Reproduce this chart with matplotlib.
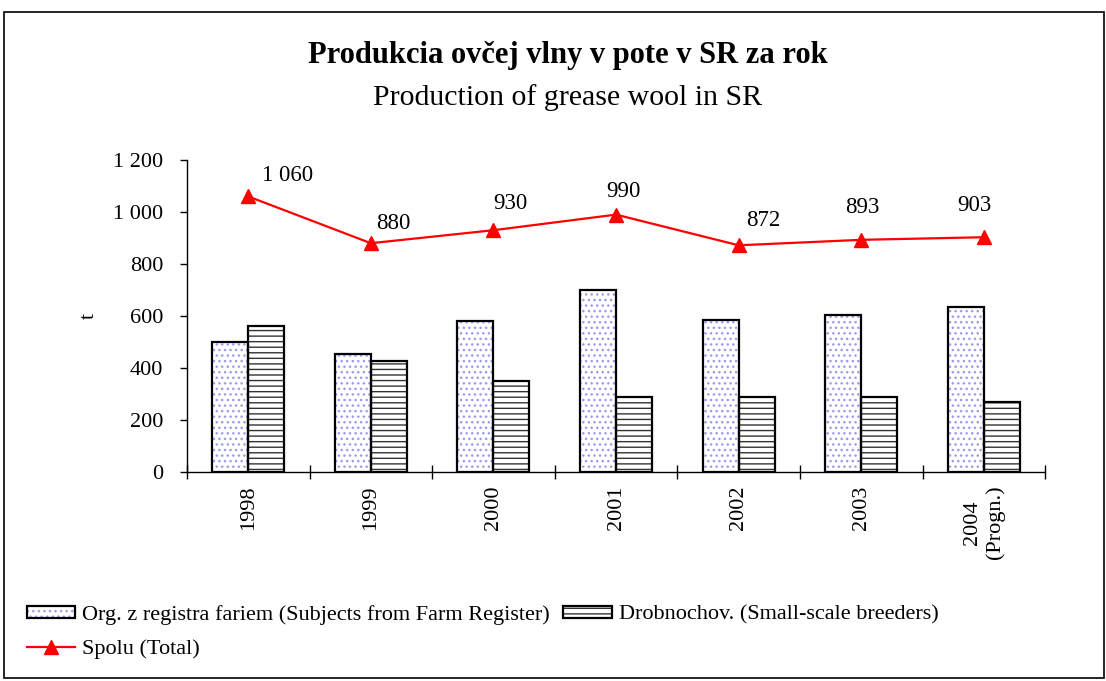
import numpy as np
import matplotlib
matplotlib.use("Agg")
import matplotlib.pyplot as plt
from matplotlib.patches import Rectangle, Patch
from matplotlib.lines import Line2D

plt.rcParams['font.family'] = ['Liberation Serif', 'DejaVu Serif']
plt.rcParams['hatch.linewidth'] = 1.0

years = ["1998", "1999", "2000", "2001", "2002", "2003", "2004\n(Progn.)"]
org_farm = [500, 453, 580, 700, 585, 603, 633]
small_breeders = [560, 427, 350, 290, 287, 290, 270]
total = [1060, 880, 930, 990, 872, 893, 903]
total_labels = ["1 060", "880", "930", "990", "872", "893", "903"]

# label offsets (points) as Excel placed them
label_off = [(28, 15), (16, 14), (12, 19), (5, 17), (18, 18), (1, 23), (-7, 23)]

fig = plt.figure(figsize=(11.06, 6.81), dpi=100)
ax = fig.add_axes([0.169, 0.307, 0.776, 0.458])

x = np.arange(len(years))
w = 0.294
blue = "#9a9af0"

# hatch fills first, then black outlines on top
ax.bar(x - w/2, org_farm, w, color="white", hatch="...", edgecolor=blue, linewidth=0)
ax.bar(x + w/2, small_breeders, w, color="white", hatch="---", edgecolor="#333333", linewidth=0)
ax.bar(x - w/2, org_farm, w, fill=False, edgecolor="black", linewidth=1.6)
ax.bar(x + w/2, small_breeders, w, fill=False, edgecolor="black", linewidth=1.6)

ax.plot(x, total, color="red", lw=1.6, marker="^", markersize=10, zorder=5)
for xi, v, lab, off in zip(x, total, total_labels, label_off):
    ax.annotate(lab, (xi, v), xytext=off, textcoords="offset points",
                ha="center", va="center", fontsize=16.5)

ax.set_xlim(-0.5, len(years) - 0.5)
ax.set_ylim(0, 1200)
ax.set_yticks(np.arange(0, 1201, 200))
ax.set_yticklabels(["0", "200", "400", "600", "800", "1 000", "1 200"], fontsize=16)
ax.tick_params(axis="y", direction="out", length=5, pad=12, width=1)

ax.set_xticks(x)
ax.set_xticklabels(years, rotation=90, fontsize=16, va="top", ha="center", multialignment="center")
ax.tick_params(axis="x", which="major", length=0, pad=10)
ax.set_xticks(np.arange(-0.5, len(years), 1), minor=True)
ax.tick_params(axis="x", which="minor", direction="inout", length=10, width=1)

ax.spines["top"].set_visible(False)
ax.spines["right"].set_visible(False)
ax.spines["left"].set_linewidth(1)
ax.spines["bottom"].set_linewidth(1)
ax.set_ylabel("t", fontsize=16, labelpad=10)

fig.text(0.513, 0.918, "Produkcia ovčej vlny v pote v SR za rok", ha="center", va="center",
         fontsize=22, fontweight="bold")
fig.text(0.513, 0.857, "Production of grease wool in SR", ha="center", va="center", fontsize=21.5)

# legend
h_org = (Patch(facecolor="white", hatch="...", edgecolor=blue, linewidth=0),
         Patch(fill=False, edgecolor="black", linewidth=1.6))
h_small = (Patch(facecolor="white", hatch="---", edgecolor="#333333", linewidth=0),
           Patch(fill=False, edgecolor="black", linewidth=1.6))
h_tot = Line2D([], [], color="red", lw=1.6, marker="^", markersize=10)
fig.legend([h_org, h_tot, h_small],
           ["Org. z registra fariem (Subjects from Farm Register)", "Spolu (Total)",
            "Drobnochov. (Small-scale breeders)"],
           ncol=2, loc="upper left", bbox_to_anchor=(0.014, 0.128), frameon=False,
           fontsize=16, handlelength=2.2, handleheight=0.45, handletextpad=0.3,
           columnspacing=0.6, labelspacing=0.65, borderpad=0)

fig.patches.append(Rectangle((0.004, 0.004), 0.994, 0.978, transform=fig.transFigure,
                             fill=False, edgecolor="black", linewidth=1.2))

fig.savefig("out.png", dpi=100)
